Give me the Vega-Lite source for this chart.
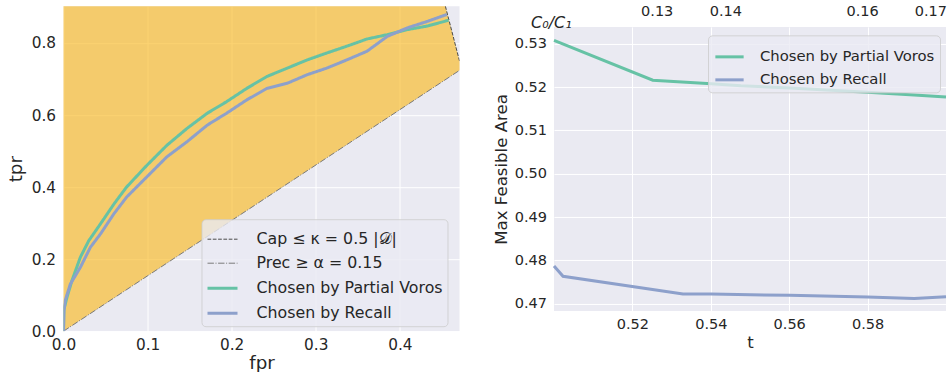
{
  "$schema": "https://vega.github.io/schema/vega-lite/v6.json",
  "padding": {"left": 5.5, "top": 0, "right": 0, "bottom": 0},
  "spacing": 33.5,
  "center": true,
  "background": "white",
  "config": {
    "font": "DejaVu Sans",
    "view": {"fill": "#EAEAF2", "stroke": null},
    "axis": {"domain": false, "ticks": false, "gridColor": "#FFFFFF", "gridWidth": 1, "labelColor": "#262626", "titleColor": "#262626", "titleFontWeight": "normal", "labelFont": "DejaVu Sans", "titleFont": "DejaVu Sans"},
    "legend": {"labelColor": "#262626", "labelFont": "DejaVu Sans", "labelLimit": 400}
  },
  "datasets": {
    "region": [
      {"fpr": 0, "lo": 0, "hi": 0.902},
      {"fpr": 0.4542, "lo": 0.6981, "hi": 0.902},
      {"fpr": 0.471, "lo": 0.7239, "hi": 0.75}
    ],
    "roc": [
      {"series": "Cap ≤ κ = 0.5 |𝒟|", "fpr": 0.4542, "tpr": 0.902},
      {"series": "Cap ≤ κ = 0.5 |𝒟|", "fpr": 0.471, "tpr": 0.75},
      {"series": "Prec ≥ α = 0.15", "fpr": 0, "tpr": 0},
      {"series": "Prec ≥ α = 0.15", "fpr": 0.471, "tpr": 0.7239},
      {"series": "Chosen by Partial Voros", "fpr": 0, "tpr": 0},
      {"series": "Chosen by Partial Voros", "fpr": 0.0005, "tpr": 0.06},
      {"series": "Chosen by Partial Voros", "fpr": 0.004, "tpr": 0.093},
      {"series": "Chosen by Partial Voros", "fpr": 0.01, "tpr": 0.14},
      {"series": "Chosen by Partial Voros", "fpr": 0.02, "tpr": 0.205},
      {"series": "Chosen by Partial Voros", "fpr": 0.03, "tpr": 0.251},
      {"series": "Chosen by Partial Voros", "fpr": 0.044, "tpr": 0.298},
      {"series": "Chosen by Partial Voros", "fpr": 0.06, "tpr": 0.353},
      {"series": "Chosen by Partial Voros", "fpr": 0.075, "tpr": 0.4},
      {"series": "Chosen by Partial Voros", "fpr": 0.099, "tpr": 0.46},
      {"series": "Chosen by Partial Voros", "fpr": 0.123, "tpr": 0.516},
      {"series": "Chosen by Partial Voros", "fpr": 0.147, "tpr": 0.563},
      {"series": "Chosen by Partial Voros", "fpr": 0.171, "tpr": 0.605},
      {"series": "Chosen by Partial Voros", "fpr": 0.194, "tpr": 0.637},
      {"series": "Chosen by Partial Voros", "fpr": 0.218, "tpr": 0.674},
      {"series": "Chosen by Partial Voros", "fpr": 0.242, "tpr": 0.707},
      {"series": "Chosen by Partial Voros", "fpr": 0.266, "tpr": 0.73},
      {"series": "Chosen by Partial Voros", "fpr": 0.29, "tpr": 0.753},
      {"series": "Chosen by Partial Voros", "fpr": 0.313, "tpr": 0.772},
      {"series": "Chosen by Partial Voros", "fpr": 0.337, "tpr": 0.791},
      {"series": "Chosen by Partial Voros", "fpr": 0.361, "tpr": 0.811},
      {"series": "Chosen by Partial Voros", "fpr": 0.385, "tpr": 0.823},
      {"series": "Chosen by Partial Voros", "fpr": 0.409, "tpr": 0.837},
      {"series": "Chosen by Partial Voros", "fpr": 0.433, "tpr": 0.847},
      {"series": "Chosen by Partial Voros", "fpr": 0.458, "tpr": 0.863},
      {"series": "Chosen by Recall", "fpr": 0, "tpr": 0},
      {"series": "Chosen by Recall", "fpr": 0.0005, "tpr": 0.056},
      {"series": "Chosen by Recall", "fpr": 0.002, "tpr": 0.085},
      {"series": "Chosen by Recall", "fpr": 0.008, "tpr": 0.13},
      {"series": "Chosen by Recall", "fpr": 0.02, "tpr": 0.177},
      {"series": "Chosen by Recall", "fpr": 0.032, "tpr": 0.233},
      {"series": "Chosen by Recall", "fpr": 0.044, "tpr": 0.27},
      {"series": "Chosen by Recall", "fpr": 0.06, "tpr": 0.326},
      {"series": "Chosen by Recall", "fpr": 0.075, "tpr": 0.372},
      {"series": "Chosen by Recall", "fpr": 0.099, "tpr": 0.428},
      {"series": "Chosen by Recall", "fpr": 0.123, "tpr": 0.484},
      {"series": "Chosen by Recall", "fpr": 0.147, "tpr": 0.526},
      {"series": "Chosen by Recall", "fpr": 0.171, "tpr": 0.572},
      {"series": "Chosen by Recall", "fpr": 0.194, "tpr": 0.605},
      {"series": "Chosen by Recall", "fpr": 0.218, "tpr": 0.642},
      {"series": "Chosen by Recall", "fpr": 0.242, "tpr": 0.674},
      {"series": "Chosen by Recall", "fpr": 0.266, "tpr": 0.688},
      {"series": "Chosen by Recall", "fpr": 0.29, "tpr": 0.712},
      {"series": "Chosen by Recall", "fpr": 0.313, "tpr": 0.73},
      {"series": "Chosen by Recall", "fpr": 0.337, "tpr": 0.753},
      {"series": "Chosen by Recall", "fpr": 0.361, "tpr": 0.777},
      {"series": "Chosen by Recall", "fpr": 0.385, "tpr": 0.818},
      {"series": "Chosen by Recall", "fpr": 0.409, "tpr": 0.842},
      {"series": "Chosen by Recall", "fpr": 0.433, "tpr": 0.86},
      {"series": "Chosen by Recall", "fpr": 0.456, "tpr": 0.879}
    ],
    "mfa": [
      {"series": "Chosen by Partial Voros", "t": 0.5, "area": 0.5308},
      {"series": "Chosen by Partial Voros", "t": 0.5252, "area": 0.5216},
      {"series": "Chosen by Partial Voros", "t": 0.5401, "area": 0.5208},
      {"series": "Chosen by Partial Voros", "t": 0.5477, "area": 0.5203},
      {"series": "Chosen by Partial Voros", "t": 0.5601, "area": 0.5198},
      {"series": "Chosen by Partial Voros", "t": 0.58, "area": 0.5188},
      {"series": "Chosen by Partial Voros", "t": 0.5919, "area": 0.5182},
      {"series": "Chosen by Partial Voros", "t": 0.6, "area": 0.5177},
      {"series": "Chosen by Recall", "t": 0.5, "area": 0.4787},
      {"series": "Chosen by Recall", "t": 0.5023, "area": 0.4763},
      {"series": "Chosen by Recall", "t": 0.5329, "area": 0.4722},
      {"series": "Chosen by Recall", "t": 0.5401, "area": 0.4722},
      {"series": "Chosen by Recall", "t": 0.5601, "area": 0.4719},
      {"series": "Chosen by Recall", "t": 0.58, "area": 0.4715},
      {"series": "Chosen by Recall", "t": 0.5919, "area": 0.4712},
      {"series": "Chosen by Recall", "t": 0.6, "area": 0.4716}
    ]
  },
  "resolve": {
    "scale": {"color": "independent", "strokeDash": "independent", "strokeWidth": "independent"},
    "legend": {"color": "independent", "strokeDash": "independent", "strokeWidth": "independent"}
  },
  "hconcat": [
    {
      "width": 396,
      "height": 325,
      "layer": [
        {
          "data": {"name": "region"},
          "mark": {"type": "area", "color": "#FAB513", "opacity": 0.6},
          "encoding": {
            "x": {"field": "fpr", "type": "quantitative", "scale": {"domain": [0, 0.471], "nice": false, "zero": false},
                  "axis": {"title": "fpr", "values": [0, 0.1, 0.2, 0.3, 0.4], "format": ".1f", "labelFontSize": 15.3, "titleFontSize": 18.3, "labelPadding": 6, "titlePadding": 2, "labelFlush": false}},
            "y": {"field": "lo", "type": "quantitative", "scale": {"domain": [0, 0.902], "nice": false},
                  "axis": {"title": "tpr", "values": [0, 0.2, 0.4, 0.6, 0.8], "format": ".1f", "labelFontSize": 15.3, "titleFontSize": 18.3, "labelPadding": 8, "titlePadding": 6, "labelFlush": false}},
            "y2": {"field": "hi"}
          }
        },
        {
          "data": {"name": "roc"},
          "mark": {"type": "line", "clip": true},
          "encoding": {
            "x": {"field": "fpr", "type": "quantitative", "axis": {"title": "fpr"}},
            "y": {"field": "tpr", "type": "quantitative", "axis": {"title": "tpr"}},
            "color": {"field": "series", "type": "nominal",
              "scale": {"domain": ["Cap ≤ κ = 0.5 |𝒟|", "Prec ≥ α = 0.15", "Chosen by Partial Voros", "Chosen by Recall"], "range": ["#4a4a4a", "#7a7a7a", "#66C2A5", "#8DA0CB"]},
              "legend": {"title": null, "orient": "none", "legendX": 138, "legendY": 213, "labelFontSize": 15.8, "symbolType": "stroke", "symbolSize": 900, "labelOffset": 17.5, "padding": 4.5, "rowPadding": 0, "fillColor": "rgba(234,234,242,0.8)", "strokeColor": "rgba(204,204,204,0.8)", "cornerRadius": 4}},
            "strokeDash": {"field": "series", "type": "nominal",
              "scale": {"domain": ["Cap ≤ κ = 0.5 |𝒟|", "Prec ≥ α = 0.15", "Chosen by Partial Voros", "Chosen by Recall"], "range": [[3.7, 1.6], [6.4, 1.6, 1, 1.6], [1, 0], [1, 0]]},
              "legend": {"title": null}},
            "strokeWidth": {"field": "series", "type": "nominal",
              "scale": {"type": "ordinal", "domain": ["Cap ≤ κ = 0.5 |𝒟|", "Prec ≥ α = 0.15", "Chosen by Partial Voros", "Chosen by Recall"], "range": [1, 1, 3, 3]},
              "legend": {"title": null}}
          }
        }
      ]
    },
    {
      "width": 392,
      "height": 284,
      "data": {"name": "mfa"},
      "layer": [
        {
          "transform": [{"filter": "datum.series === 'Chosen by Partial Voros'"}],
          "mark": {"type": "line", "strokeWidth": 3},
          "encoding": {
            "x": {"field": "t", "type": "quantitative", "scale": {"domain": [0.5, 0.6], "nice": false, "zero": false},
                  "axis": {"title": "t", "values": [0.52, 0.54, 0.56, 0.58], "format": ".2f", "labelFontSize": 14.5, "titleFontSize": 16.6, "labelPadding": 7, "titlePadding": 3}},
            "y": {"field": "area", "type": "quantitative", "scale": {"domain": [0.4683, 0.5339], "nice": false, "zero": false},
                  "axis": {"title": "Max Feasible Area", "values": [0.47, 0.48, 0.49, 0.5, 0.51, 0.52, 0.53], "format": ".2f", "labelFontSize": 14.5, "titleFontSize": 16.6, "labelPadding": 7.5, "titlePadding": 5}},
            "color": {"field": "series", "type": "nominal",
              "scale": {"domain": ["Chosen by Partial Voros", "Chosen by Recall"], "range": ["#66C2A5", "#8DA0CB"]},
              "legend": {"title": null, "orient": "none", "legendX": 154, "legendY": 8.4, "labelFontSize": 14.8, "symbolType": "stroke", "symbolSize": 800, "symbolStrokeWidth": 3, "labelOffset": 14.5, "padding": 5.5, "rowPadding": 0, "fillColor": "rgba(234,234,242,0.8)", "strokeColor": "rgba(204,204,204,0.8)", "cornerRadius": 4}}
          }
        },
        {
          "transform": [{"filter": "datum.series === 'Chosen by Recall'"}],
          "mark": {"type": "line", "strokeWidth": 3},
          "encoding": {
            "x": {"field": "t", "type": "quantitative",
                  "axis": {"orient": "top", "grid": false, "values": [0.5262, 0.5437, 0.5786, 0.596],
                           "labelExpr": "datum.value < 0.53 ? '0.13' : datum.value < 0.56 ? '0.14' : datum.value < 0.59 ? '0.16' : '0.17'",
                           "labelFontSize": 14.5, "ticks": true, "tickSize": 26.4, "tickColor": "transparent", "labelPadding": -18.4,
                           "title": "C₀/C₁", "titleFontSize": 16, "titleFontStyle": "italic", "titleAngle": 0, "titleAlign": "left", "titleAnchor": "start", "titleBaseline": "alphabetic", "titleX": -23.4, "titleY": 1}},
            "y": {"field": "area", "type": "quantitative", "axis": {"title": "Max Feasible Area"}},
            "color": {"field": "series", "type": "nominal"}
          }
        }
      ],
      "resolve": {"axis": {"x": "independent"}}
    }
  ]
}
